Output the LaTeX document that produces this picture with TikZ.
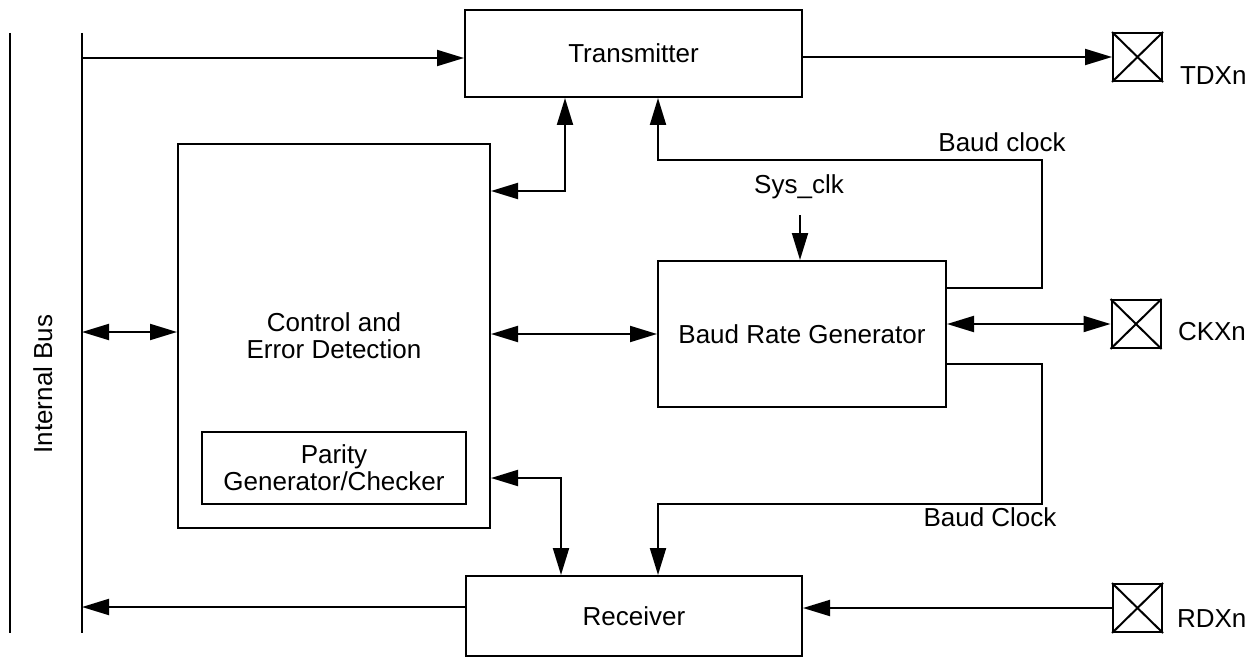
\documentclass[tikz,border=0pt]{standalone}
\usepackage{fontspec}
\setmainfont{Liberation Sans}
\usetikzlibrary{arrows.meta}
\begin{document}
\begin{tikzpicture}[x=1pt,y=-1pt,line width=2pt,
  font=\fontsize{26}{27}\selectfont,
  blk/.style={draw,rectangle,inner sep=0pt,align=center},
  pin/.style={draw,rectangle,inner sep=0pt,minimum width=49pt,minimum height=48pt},
  lbl/.style={inner sep=0pt,anchor=base},
  arr/.style={-{Triangle[length=27pt,width=16pt]}},
  bothway/.style={{Triangle[length=27pt,width=16pt]}-{Triangle[length=27pt,width=16pt]}}]
\useasboundingbox (0,0) rectangle (1257,658);
% bus lines
\coordinate (oT) at (10,33); \coordinate (oB) at (10,633);
\coordinate (busT) at (82,33); \coordinate (busB) at (82,633);
\draw (oT) -- (oB);
\draw (busT) -- (busB);
\node[lbl,rotate=90] (bus) at (52,384) {Internal Bus};
% blocks
\node[blk,minimum width=337pt,minimum height=87pt] (tx) at (633.5,53.5) {Transmitter};
\node[blk,minimum width=312pt,minimum height=384pt] (ctrl) at (334,336) {Control and\\Error Detection};
\node[blk,minimum width=264pt,minimum height=72pt] (par) at (334,468) {Parity\\Generator/Checker};
\node[blk,minimum width=288pt,minimum height=146pt] (brg) at (802,334) {Baud Rate Generator};
\node[blk,minimum width=336pt,minimum height=80pt] (rx) at (634,616) {Receiver};
% pins
\node[pin] (td) at (1137.5,57) {};
\node[pin] (ck) at (1136,324) {};
\node[pin] (rd) at (1137.5,608) {};
\foreach \p in {td,ck,rd}{
  \draw (\p.north west) -- (\p.south east) (\p.north east) -- (\p.south west);
}
\node[lbl,anchor=base west] (tdl) at (1179,85) {TDXn};
\node[lbl,anchor=base west] (ckl) at (1177,340) {CKXn};
\node[lbl,anchor=base west] (rdl) at (1176,627) {RDXn};
% labels
\node[lbl] (sys) at (799,193) {Sys\_clk};
\node[lbl] (bc1) at (1002,151) {Baud clock};
\node[lbl] (bc2) at (990,526) {Baud Clock};
% connectors
\coordinate (b1) at (82,58);
\draw[arr] (b1) -- (b1 -| tx.west);
\draw[arr] (td.west -| tx.east) -- (td.west);
\coordinate (b2) at (82,332);
\draw[bothway] (b2) -- (b2 -| ctrl.west);
\coordinate (c1) at (565,191);
\draw[bothway] (c1 -| ctrl.east) -- (c1) -- (c1 |- tx.south);
\draw[bothway] (ctrl.east |- brg.west) -- (brg.west);
\coordinate (c3) at (561,478);
\draw[bothway] (c3 -| ctrl.east) -- (c3) -- (c3 |- rx.north);
\coordinate (k1) at (1042,288); \coordinate (k2) at (1042,160); \coordinate (k3) at (658,160);
\draw[arr] (k1 -| brg.east) -- (k1) -- (k2) -- (k3) -- (k3 |- tx.south);
\coordinate (s1) at (800,215);
\draw[arr] (s1) -- (s1 |- brg.north);
\draw[bothway] (brg.east |- ck.west) -- (ck.west);
\coordinate (m1) at (1042,364); \coordinate (m2) at (1042,504); \coordinate (m3) at (658,504);
\draw[arr] (m1 -| brg.east) -- (m1) -- (m2) -- (m3) -- (m3 |- rx.north);
\draw[arr] (rd.west) -- (rd.west -| rx.east);
\coordinate (b3) at (82,607);
\draw[arr] (b3 -| rx.west) -- (b3);
\end{tikzpicture}
\end{document}
